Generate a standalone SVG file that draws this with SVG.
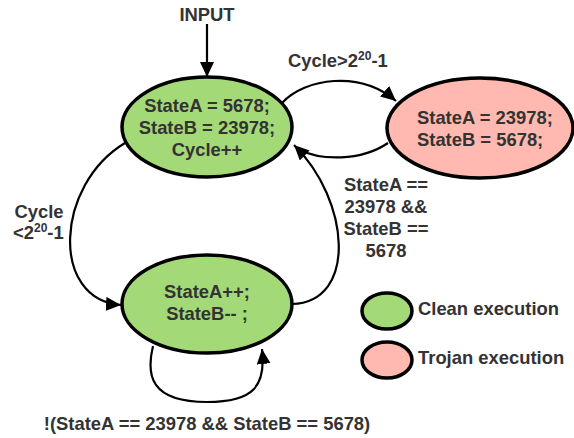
<svg xmlns="http://www.w3.org/2000/svg" width="574" height="438" viewBox="0 0 574 438">
<style>
text{font-family:"Liberation Sans",Arial,sans-serif;font-weight:bold;font-size:18.4px;fill:#333333}
.c{text-anchor:middle}
.node{stroke:#000;stroke-width:3.5}
.green{fill:#A3D977}
.red{fill:#FFB9B0}
.edge{fill:none;stroke:#000;stroke-width:2.2}
.sup{font-size:12px}
</style>
<defs>
<marker id="arr" markerUnits="userSpaceOnUse" markerWidth="16" markerHeight="14" refX="15" refY="7" orient="auto">
<path d="M0,0 L15,7 L0,14 z" fill="#000"/>
</marker>
</defs>
<g id="connectors">
<path class="edge" d="M207,24 L207,77" marker-end="url(#arr)"/>
<path class="edge" d="M282,103 C305,78 360,70 396,101" marker-end="url(#arr)"/>
<path class="edge" d="M388,143 C360,162 320,160 300,150"/>
<path class="edge" d="M292,304 C358,302 350,200 294,145" marker-end="url(#arr)"/>
<path class="edge" d="M125,143 C55,185 50,300 121,305" marker-end="url(#arr)"/>
<path class="edge" d="M153,346 C146,375 150,402 207,402 C255,402 266,385 262,349" marker-end="url(#arr)"/>
</g>
<g id="input-label"><text class="c" x="207" y="21">INPUT</text></g>
<g id="label-cycle-gt"><text x="288" y="67">Cycle&gt;2<tspan class="sup" dy="-7">20</tspan><tspan dy="7">-1</tspan></text></g>
<g id="label-cycle-lt">
<text class="c" x="39" y="218">Cycle</text>
<text x="13" y="239">&lt;2<tspan class="sup" dy="-7">20</tspan><tspan dy="7">-1</tspan></text>
</g>
<g id="label-state-eq">
<text class="c" x="386" y="191">StateA ==</text>
<text class="c" x="386" y="213">23978 &amp;&amp;</text>
<text class="c" x="386" y="235">StateB ==</text>
<text class="c" x="386" y="257">5678</text>
</g>
<g id="label-loop"><text class="c" x="207" y="430">!(StateA == 23978 &amp;&amp; StateB == 5678)</text></g>
<g id="node-init">
<ellipse class="node green" cx="207" cy="127" rx="85" ry="50"/>
<text class="c" x="207" y="112">StateA = 5678;</text>
<text class="c" x="207" y="134">StateB = 23978;</text>
<text class="c" x="207" y="156">Cycle++</text>
</g>
<g id="node-trojan">
<ellipse class="node red" cx="480" cy="128" rx="93" ry="50"/>
<text x="417" y="124">StateA = 23978;</text>
<text x="417" y="146">StateB = 5678;</text>
</g>
<g id="node-count">
<ellipse class="node green" cx="207" cy="304" rx="85" ry="49"/>
<text class="c" x="207" y="298">StateA++;</text>
<text class="c" x="207" y="320">StateB-- ;</text>
</g>
<g id="legend-clean">
<ellipse class="node green" cx="387" cy="311" rx="25" ry="18"/>
<text x="418" y="315">Clean execution</text>
</g>
<g id="legend-trojan">
<ellipse class="node red" cx="387" cy="360" rx="25" ry="18"/>
<text x="418" y="364">Trojan execution</text>
</g>
</svg>
